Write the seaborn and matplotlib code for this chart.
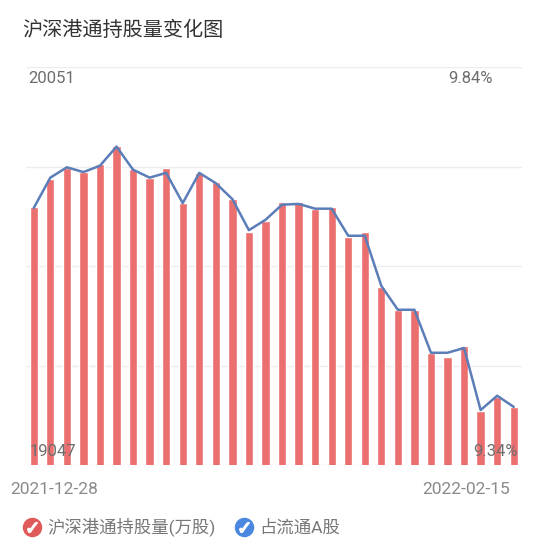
import numpy as np
import matplotlib
matplotlib.use("Agg")
import matplotlib.pyplot as plt
import seaborn as sns
from matplotlib.lines import Line2D
from matplotlib.legend_handler import HandlerTuple

# 交易日 (2021-12-28 .. 2022-02-15)
DATES = ["2021-12-28", "2021-12-29", "2021-12-30", "2021-12-31",
         "2022-01-04", "2022-01-05", "2022-01-06", "2022-01-07",
         "2022-01-10", "2022-01-11", "2022-01-12", "2022-01-13", "2022-01-14",
         "2022-01-17", "2022-01-18", "2022-01-19", "2022-01-20", "2022-01-21",
         "2022-01-24", "2022-01-25", "2022-01-26", "2022-01-27", "2022-01-28",
         "2022-02-07", "2022-02-08", "2022-02-09", "2022-02-10", "2022-02-11",
         "2022-02-14", "2022-02-15"]

# 沪深港通持股量(万股)
HOLDINGS = [19699, 19768, 19795, 19787, 19806, 19852, 19794, 19772, 19795, 19709,
            19784, 19760, 19718, 19635, 19663, 19711, 19710, 19692, 19699, 19623,
            19634, 19497, 19438, 19438, 19329, 19320, 19348, 19183, 19219, 19194]

# 占流通A股 (%)
PCT = [9.663, 9.701, 9.714, 9.708, 9.716, 9.740, 9.711, 9.701, 9.707, 9.669,
       9.707, 9.694, 9.674, 9.635, 9.648, 9.667, 9.668, 9.662, 9.662, 9.628,
       9.628, 9.565, 9.535, 9.535, 9.481, 9.481, 9.487, 9.409, 9.427, 9.413]

HOLD_MIN, HOLD_MAX = 19047, 20051
PCT_MIN, PCT_MAX = 9.34, 9.84

TITLE = "沪深港通持股量变化图"
LEGEND_LABELS = ["沪深港通持股量(万股)", "占流通A股"]

BAR_COLOR = "#ec6f6f"
LINE_COLOR = "#5b7db8"
ICON_RED = "#e05a5a"
ICON_BLUE = "#4a88e0"

sns.set_theme(style="white")
plt.rcParams["font.family"] = ["Roboto", "Noto Sans CJK SC", "DejaVu Sans"]

W, H = 550, 549
fig = plt.figure(figsize=(W / 100, H / 100), dpi=100, facecolor="white")
ax = fig.add_axes([25.5 / W, (H - 465) / H, 496.5 / W, 398 / H])

sns.barplot(x=DATES, y=HOLDINGS, color=BAR_COLOR, saturation=1, width=0.5,
            ax=ax, zorder=2)
ax.set_ylim(HOLD_MIN, HOLD_MAX)
ax.set_xlim(-0.5, len(DATES) - 0.5)
ax.set_yticks(np.linspace(HOLD_MIN, HOLD_MAX, 5))
ax.grid(True, axis="y", color="#ededed", lw=1)
ax.set_axisbelow(True)
ax.set_xlabel("")
ax.set_ylabel("")
sns.despine(ax=ax, left=True, bottom=True)

ax2 = ax.twinx()
sns.lineplot(x=np.arange(len(PCT)), y=PCT, color=LINE_COLOR, lw=1.8, ax=ax2)
ax2.set_ylim(PCT_MIN, PCT_MAX)
ax2.set_xlim(-0.5, len(DATES) - 0.5)
ax2.axis("off")
# twinx turns the left ticks back on
ax.tick_params(left=False, right=False, bottom=False, labelleft=False, labelbottom=False)

lab_kw = dict(fontsize=12, color="#6e6e6e", va="center")
ax.text(0.005, 0.972, f"{HOLD_MAX}", transform=ax.transAxes, ha="left", **lab_kw)
ax.text(0.942, 0.972, f"{PCT_MAX:.2f}%", transform=ax.transAxes, ha="right", **lab_kw)
ax2.text(0.009, 0.033, f"{HOLD_MIN}", transform=ax.transAxes, ha="left", zorder=5, **lab_kw)
ax2.text(0.992, 0.033, f"{PCT_MIN:.2f}%", transform=ax.transAxes, ha="right", zorder=5, **lab_kw)

fig.text(22 / W, 1 - 30 / H, TITLE, fontsize=14.5, color="#333333", va="center", ha="left")

fig.text(10 / W, 1 - 490 / H, DATES[0], fontsize=12.5, color="#8a8a8a", va="center", ha="left")
fig.text(510 / W, 1 - 490 / H, DATES[-1], fontsize=12.5, color="#8a8a8a", va="center", ha="right")

check = dict(marker=r"$\checkmark$", color="white", markersize=7, lw=0)
handles = [
    (Line2D([], [], marker="o", color=ICON_RED, markersize=13, lw=0), Line2D([], [], **check)),
    (Line2D([], [], marker="o", color=ICON_BLUE, markersize=13, lw=0), Line2D([], [], **check)),
]
fig.legend(handles, LEGEND_LABELS, handler_map={tuple: HandlerTuple(ndivide=1)},
           loc="center left", bbox_to_anchor=(6 / W, 1 - 527 / H), ncol=2,
           frameon=False, fontsize=12.5, labelcolor="#777777",
           handlelength=1.2, handletextpad=0.3, columnspacing=1.0)

fig.savefig("out.png", dpi=100, facecolor="white")
